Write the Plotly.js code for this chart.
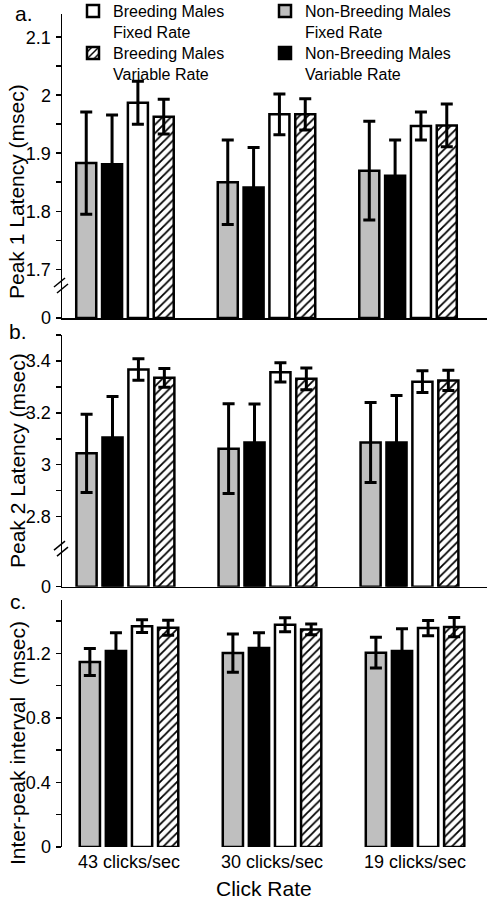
<!DOCTYPE html>
<html>
<head>
<meta charset="utf-8">
<script src="https://cdn.plot.ly/plotly-3.0.1.min.js"></script>
<style>html,body{margin:0;padding:0;background:#fff;}</style>
</head>
<body>
<div id="chart" style="width:493px;height:908px;"></div>
<script>
// ---------- data ----------
const categories = ["43 clicks/sec", "30 clicks/sec", "19 clicks/sec"];
const seriesNames = ["Non-Breeding Males<br>Fixed Rate", "Non-Breeding Males<br>Variable Rate",
                     "Breeding Males<br>Fixed Rate", "Breeding Males<br>Variable Rate"];

// Panel a: Peak 1 latency (msec)
const peak1NBFixed = [1.883, 1.850, 1.870];
const peak1NBFixedErr = [0.088, 0.073, 0.085];
const peak1NBVar = [1.881, 1.841, 1.861];
const peak1NBVarErr = [0.085, 0.069, 0.062];
const peak1BFixed = [1.987, 1.967, 1.947];
const peak1BFixedErr = [0.037, 0.035, 0.024];
const peak1BVar = [1.963, 1.967, 1.948];
const peak1BVarErr = [0.030, 0.027, 0.037];

// Panel b: Peak 2 latency (msec)
const peak2NBFixed = [3.044, 3.062, 3.086];
const peak2NBFixedErr = [0.151, 0.173, 0.154];
const peak2NBVar = [3.105, 3.086, 3.086];
const peak2NBVarErr = [0.158, 0.148, 0.181];
const peak2BFixed = [3.367, 3.356, 3.320];
const peak2BFixedErr = [0.041, 0.037, 0.042];
const peak2BVar = [3.335, 3.331, 3.325];
const peak2BVarErr = [0.036, 0.042, 0.039];

// Panel c: Inter-peak interval (msec)
const ipiNBFixed = [1.146, 1.201, 1.204];
const ipiNBFixedErr = [0.083, 0.118, 0.095];
const ipiNBVar = [1.214, 1.232, 1.214];
const ipiNBVarErr = [0.113, 0.095, 0.138];
const ipiBFixed = [1.368, 1.377, 1.356];
const ipiBFixedErr = [0.040, 0.043, 0.047];
const ipiBVar = [1.358, 1.348, 1.362];
const ipiBVarErr = [0.046, 0.034, 0.059];

// tick labels (broken axes: bottom tick labelled 0)
const p1TickVals = [1.616, 1.7, 1.8, 1.9, 2.0, 2.1];
const p1TickText = ["0", "1.7", "1.8", "1.9", "2", "2.1"];
const p1Minor = [1.75, 1.85, 1.95, 2.05];
const p2TickVals = [2.53, 2.8, 3.0, 3.2, 3.4];
const p2TickText = ["0", "2.8", "3", "3.2", "3.4"];
const p2Minor = [2.9, 3.1, 3.3, 3.5];
const ipiTickVals = [0, 0.4, 0.8, 1.2];
const ipiTickText = ["0", "0.4", "0.8", "1.2"];
const ipiMinor = [0.2, 0.6, 1.0, 1.4];

// ---------- styles ----------
const FONT = 'Arial, "Liberation Sans", sans-serif';
const W = 493, H = 908, ML = 62, MR = 6;
const PW = W - ML - MR;
const px2x = p => (p - ML) / PW;
const py2y = p => 1 - p / H;

const styles = [
  {color: "#bfbfbf"},
  {color: "#000000"},
  {color: "#ffffff"},
  {color: "#ffffff", pattern: {shape: "/", fgcolor: "#000", bgcolor: "#fff", size: 6, solidity: 0.3}}
];
const legendOf = [{legend: "legend", rank: 2}, {legend: "legend2", rank: 2},
                  {legend: "legend", rank: 1}, {legend: "legend2", rank: 1}];

function panel(idx, vals, errs, base, showLegend) {
  const sfx = idx === 1 ? "" : String(idx);
  return vals.map((v, i) => {
    const m = Object.assign({line: {color: "#000", width: 2.5}}, styles[i]);
    return {
      type: "bar",
      x: categories,
      y: base === 0 ? v : v.map(d => d - base),
      base: base,
      name: seriesNames[i],
      marker: m,
      error_y: {type: "data", array: errs[i], visible: true, color: "#000", thickness: 3, width: 6},
      xaxis: "x" + sfx, yaxis: "y" + sfx,
      showlegend: showLegend,
      legend: legendOf[i].legend,
      legendrank: legendOf[i].rank,
      hoverinfo: "skip"
    };
  });
}

const p1Base = p1TickVals[0], p2Base = p2TickVals[0];
const traces = [].concat(
  panel(1, [peak1NBFixed, peak1NBVar, peak1BFixed, peak1BVar],
           [peak1NBFixedErr, peak1NBVarErr, peak1BFixedErr, peak1BVarErr], p1Base, true),
  panel(2, [peak2NBFixed, peak2NBVar, peak2BFixed, peak2BVar],
           [peak2NBFixedErr, peak2NBVarErr, peak2BFixedErr, peak2BVarErr], p2Base, false),
  panel(3, [ipiNBFixed, ipiNBVar, ipiBFixed, ipiBVar],
           [ipiNBFixedErr, ipiNBVarErr, ipiBFixedErr, ipiBVarErr], 0, false)
);

function xax(range, anchor, showline, showlabels) {
  return {type: "category", range: range, anchor: anchor, showline: showline, linecolor: "#000",
          linewidth: 1.5, ticks: "", showticklabels: showlabels, showgrid: false, zeroline: false,
          tickfont: {size: 18, family: FONT, color: "#000"}, ticklabelstandoff: 2, fixedrange: true};
}
function yax(domain, range, tv, tt, minor, anchor) {
  return {domain: domain, range: range, anchor: anchor, tickmode: "array", tickvals: tv, ticktext: tt,
          ticks: "outside", ticklen: 5, tickwidth: 1.5, tickcolor: "#000",
          showline: true, linecolor: "#000", linewidth: 1.5, showgrid: false, zeroline: false,
          tickfont: {size: 18, family: FONT, color: "#000"}, ticklabelstandoff: 1,
          minor: {tickvals: minor, ticks: "outside", ticklen: 5, tickwidth: 1.5, tickcolor: "#000", showgrid: false},
          fixedrange: true};
}

function brk(yref, yval) {
  const common = {type: "line", xref: "paper", yref: yref, xsizemode: "pixel", ysizemode: "pixel",
                  xanchor: 0, yanchor: yval, line: {color: "#000", width: 1.5}, layer: "above"};
  return [Object.assign({x0: -8, x1: 3, y0: -1, y1: 8}, common),
          Object.assign({x0: -5, x1: 6, y0: -7, y1: 2}, common)];
}

const ann = (text, xpx, ypx, size, opts) => Object.assign({
  text: text, xref: "paper", yref: "paper", x: px2x(xpx), y: py2y(ypx),
  showarrow: false, font: {size: size, family: FONT, color: "#000"}, xanchor: "center", yanchor: "middle"
}, opts || {});

const legendBase = {orientation: "h", xanchor: "left", yanchor: "top",
  entrywidth: 147, entrywidthmode: "pixels", valign: "top", bgcolor: "rgba(0,0,0,0)",
  font: {size: 16, family: FONT, color: "#000"}, traceorder: "normal"};

const layout = {
  width: W, height: H,
  margin: {l: ML, r: MR, t: 0, b: 0, pad: 0, autoexpand: false},
  paper_bgcolor: "#fff", plot_bgcolor: "#fff",
  font: {family: FONT, color: "#000"},
  barmode: "group", bargap: 0.27, bargroupgap: 0.225,
  xaxis: xax([-0.445, 2.558], "y", true, false),
  xaxis2: xax([-0.447, 2.546], "y2", true, false),
  xaxis3: xax([-0.4685, 2.503], "y3", false, true),
  yaxis: yax([py2y(318), py2y(14)], [p1Base, 2.14], p1TickVals, p1TickText, p1Minor, "x"),
  yaxis2: yax([py2y(586.7), py2y(335)], [p2Base, 3.5], p2TickVals, p2TickText, p2Minor, "x2"),
  yaxis3: yax([py2y(847), py2y(600)], [0, 1.53], ipiTickVals, ipiTickText, ipiMinor, "x3"),
  legend: Object.assign({x: px2x(73), y: py2y(-6)}, legendBase),
  legend2: Object.assign({x: px2x(73), y: py2y(36)}, legendBase),
  shapes: [].concat(brk("y", 1.6712), brk("y2", 2.675)),
  annotations: [
    ann("a.", 13, 13, 21, {xanchor: "left"}),
    ann("b.", 7, 332, 21, {xanchor: "left"}),
    ann("c.", 8, 601, 21, {xanchor: "left"}),
    ann("Peak 1 Latency (msec)", 17, 192, 21, {textangle: -90}),
    ann("Peak 2 Latency (msec)", 17, 461, 21, {textangle: -90}),
    ann("Inter-peak interval&nbsp; (msec)", 17, 743, 21, {textangle: -90}),
    ann("Click Rate", 264, 888, 21)
  ]
};

Plotly.newPlot("chart", traces, layout, {displayModeBar: false, staticPlot: true});
</script>
</body>
</html>
